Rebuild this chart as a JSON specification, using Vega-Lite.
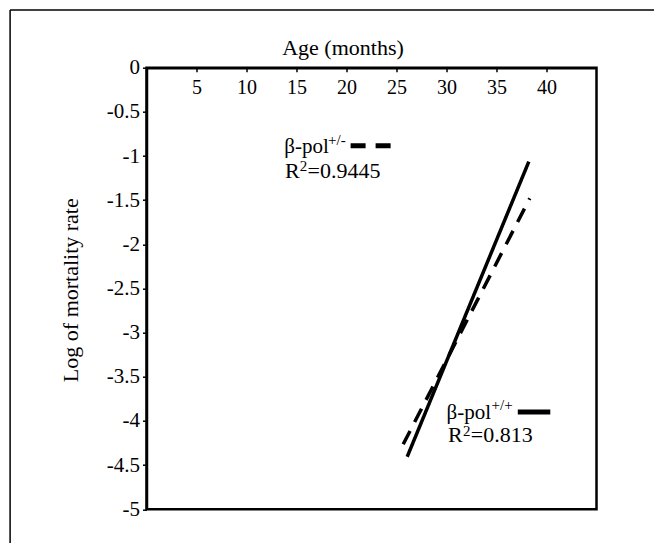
{
  "$schema": "https://vega.github.io/schema/vega-lite/v6.json",
  "width": 450,
  "height": 441.6,
  "autosize": {"type": "none"},
  "padding": {"left": 146.5, "top": 67.7, "right": 57.5, "bottom": 33.7},
  "background": "white",
  "config": {
    "view": {"stroke": "black", "strokeWidth": 2.5},
    "font": "Liberation Serif",
    "text": {"font": "Liberation Serif"},
    "axis": {
      "grid": false,
      "domainColor": "black",
      "domainWidth": 2.5,
      "tickColor": "black",
      "tickWidth": 1.5,
      "labelColor": "black",
      "titleColor": "black",
      "labelFont": "Liberation Serif",
      "titleFont": "Liberation Serif",
      "labelFontSize": 20,
      "titleFontSize": 22,
      "titleFontWeight": "normal"
    }
  },
  "datasets": {
    "lines": [
      {"series": "solid", "x": 26.07, "y": -4.405},
      {"series": "solid", "x": 38.23, "y": -1.064},
      {"series": "dashed", "x": 25.67, "y": -4.264},
      {"series": "dashed", "x": 38.33, "y": -1.479}
    ],
    "samples": [
      {"series": "dsample", "x": 20.41, "y": -0.883},
      {"series": "dsample", "x": 24.61, "y": -0.883},
      {"series": "ssample", "x": 37.13, "y": -3.898},
      {"series": "ssample", "x": 40.38, "y": -3.898}
    ],
    "labels": [
      {"text": "β-pol", "x": 13.77, "y": -0.962},
      {"text": "β-pol", "x": 30.0, "y": -3.978}
    ],
    "rlabels": [
      {"text": "R", "x": 13.84, "y": -1.245},
      {"text": "=0.9445", "x": 16.11, "y": -1.245},
      {"text": "R", "x": 30.16, "y": -4.241}, 
      {"text": "=0.813", "x": 32.43, "y": -4.241}
    ],
    "sups": [
      {"text": "+/-", "x": 18.15, "y": -0.875},
      {"text": "+/+", "x": 34.5, "y": -3.876},
      {"text": "2", "x": 15.33, "y": -1.175},
      {"text": "2", "x": 31.65, "y": -4.172}
    ],
    "frameH": [
      {"x": -13.64, "x2": 52, "y": 0.653}
    ],
    "frameV": [
      {"x": -13.64, "y": 0.653, "y2": -5.6}
    ]
  },
  "layer": [
    {
      "data": {"name": "lines"},
      "mark": {"type": "line", "strokeWidth": 3.5, "color": "black"},
      "encoding": {
        "x": {
          "field": "x", "type": "quantitative",
          "scale": {"domain": [0, 45], "nice": false, "zero": false},
          "axis": {
            "orient": "top",
            "values": [5, 10, 15, 20, 25, 30, 35, 40],
            "tickSize": -4,
            "labelPadding": -21.6,
            "labelBaseline": "alphabetic",
            "labelFont": "Liberation Serif",
            "titleFont": "Liberation Serif",
            "title": "Age (months)",
            "titleX": 196,
            "titleY": -13,
            "titleBaseline": "alphabetic",
            "titleAlign": "center"
          }
        },
        "y": {
          "field": "y", "type": "quantitative",
          "scale": {"domain": [-5, 0], "nice": false, "zero": false},
          "axis": {
            "orient": "left",
            "values": [0, -0.5, -1, -1.5, -2, -2.5, -3, -3.5, -4, -4.5, -5],
            "labelExpr": "'' + datum.value",
            "labelFont": "Liberation Serif",
            "labelFontSize": 21,
            "titleFont": "Liberation Serif",
            "tickSize": 4,
            "labelPadding": 3,
            "title": "Log of mortality rate",
            "titleX": -76,
            "titleY": 222,
            "titleBaseline": "middle",
            "titleAlign": "center",
            "titleAngle": 270
          }
        },
        "detail": {"field": "series"},
        "strokeDash": {
          "field": "series", "type": "nominal",
          "scale": {"domain": ["solid", "dashed"], "range": [[1, 0], [15, 10]]},
          "legend": null
        }
      }
    },
    {
      "data": {"name": "samples"},
      "mark": {"type": "line", "strokeWidth": 5, "color": "black"},
      "encoding": {
        "x": {"field": "x", "type": "quantitative"},
        "y": {"field": "y", "type": "quantitative"},
        "detail": {"field": "series"},
        "strokeDash": {
          "field": "series", "type": "nominal",
          "scale": {"domain": ["ssample", "dsample"], "range": [[1, 0], [21, 9]]},
          "legend": null
        }
      }
    },
    {
      "data": {"name": "labels"},
      "mark": {"type": "text", "align": "left", "baseline": "alphabetic", "fontSize": 21, "font": "Liberation Serif", "color": "black"},
      "encoding": {
        "x": {"field": "x", "type": "quantitative"},
        "y": {"field": "y", "type": "quantitative"},
        "text": {"field": "text"}
      }
    },
    {
      "data": {"name": "rlabels"},
      "mark": {"type": "text", "align": "left", "baseline": "alphabetic", "fontSize": 22, "font": "Liberation Serif", "color": "black"},
      "encoding": {
        "x": {"field": "x", "type": "quantitative"},
        "y": {"field": "y", "type": "quantitative"},
        "text": {"field": "text"}
      }
    },
    {
      "data": {"name": "sups"},
      "mark": {"type": "text", "align": "left", "baseline": "alphabetic", "fontSize": 15, "font": "Liberation Serif", "color": "black"},
      "encoding": {
        "x": {"field": "x", "type": "quantitative"},
        "y": {"field": "y", "type": "quantitative"},
        "text": {"field": "text"}
      }
    },
    {
      "data": {"name": "frameH"},
      "mark": {"type": "rule", "strokeWidth": 1.5, "color": "black"},
      "encoding": {
        "x": {"field": "x", "type": "quantitative"},
        "x2": {"field": "x2"},
        "y": {"field": "y", "type": "quantitative"}
      }
    },
    {
      "data": {"name": "frameV"},
      "mark": {"type": "rule", "strokeWidth": 1.5, "color": "black"},
      "encoding": {
        "x": {"field": "x", "type": "quantitative"},
        "y": {"field": "y", "type": "quantitative"},
        "y2": {"field": "y2"}
      }
    }
  ]
}
